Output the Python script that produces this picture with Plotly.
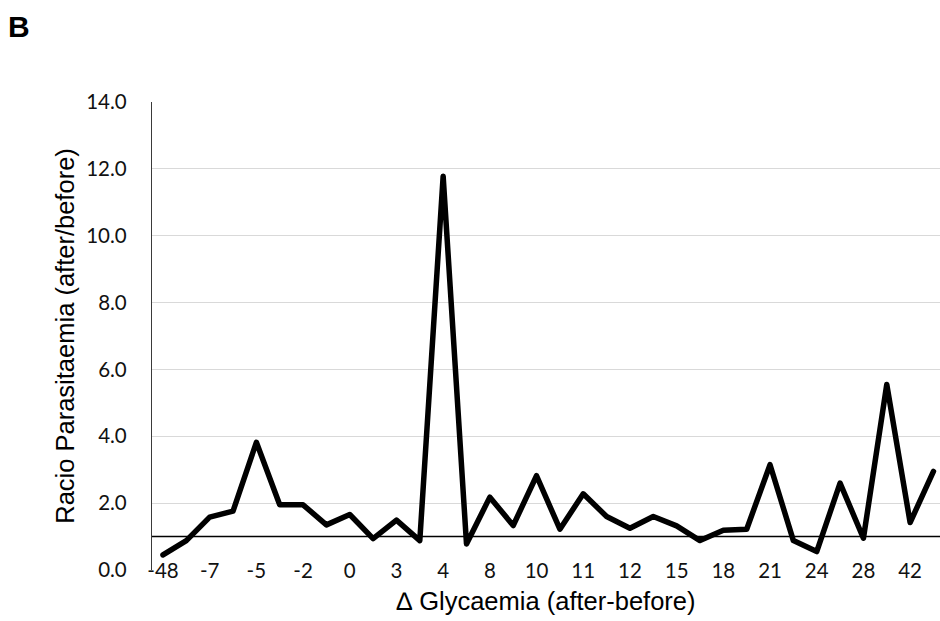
import plotly.graph_objects as go

# Ratio of parasitaemia (after/before) for each ordered glycaemia change
ratio = [0.45, 0.88, 1.58, 1.76, 3.82, 1.95, 1.95, 1.35, 1.66, 0.94,
         1.49, 0.88, 11.78, 0.78, 2.18, 1.33, 2.82, 1.22, 2.28, 1.60,
         1.25, 1.60, 1.32, 0.88, 1.19, 1.22, 3.15, 0.88, 0.55, 2.60,
         0.95, 5.55, 1.42, 2.95]
position = list(range(len(ratio)))

# Every second category carries a visible label
tick_positions = position[::2]
tick_labels = ["-48", "-7", "-5", "-2", "0", "3", "4", "8", "10", "11",
               "12", "15", "18", "21", "24", "28", "42"]

reference_ratio = 1.0
y_ticks = [0, 2, 4, 6, 8, 10, 12, 14]

TICK_FONT = dict(family="Lato, 'Open Sans', sans-serif", size=20.5, color="#111111")
TITLE_FONT = dict(family="'Liberation Sans', Arial, sans-serif", size=25.5, color="#000000")

fig = go.Figure()
fig.add_trace(go.Scatter(
    x=position, y=ratio, mode="lines",
    line=dict(color="#000000", width=5.5),
    hoverinfo="skip",
))

# Reference line at a ratio of 1
fig.add_shape(type="line", xref="x domain", yref="y",
              x0=0, x1=1, y0=reference_ratio, y1=reference_ratio,
              line=dict(color="#000000", width=1.6), layer="below")

fig.update_layout(
    width=940, height=621,
    margin=dict(l=152, r=0, t=102, b=51, autoexpand=False),
    paper_bgcolor="white", plot_bgcolor="white",
    showlegend=False,
    xaxis=dict(
        range=[-0.47, 33.28],
        anchor="free", position=0.028,
        tickmode="array", tickvals=tick_positions, ticktext=tick_labels,
        showgrid=False, zeroline=False, showline=False, ticks="",
        tickfont=TICK_FONT,
        title=dict(text="\u2206 Glycaemia (after-before)", font=TITLE_FONT, standoff=10),
        automargin=False,
    ),
    yaxis=dict(
        range=[0, 14],
        tickmode="array", tickvals=y_ticks, tickformat=".1f",
        showgrid=True, gridcolor="#d9d9d9", gridwidth=1.3,
        zeroline=False,
        showline=True, linecolor="#3a3a3a", linewidth=1.3,
        ticks="", ticklabelstandoff=20,
        tickfont=TICK_FONT,
        title=dict(text="Racio Parasitaemia (after/before)", font=TITLE_FONT, standoff=4),
        automargin=False,
    ),
    annotations=[dict(
        text="<b>B</b>", xref="paper", yref="paper",
        x=-0.1688, y=1.162, xanchor="center", yanchor="middle",
        showarrow=False,
        font=dict(family="'Liberation Sans', Arial, sans-serif", size=30, color="#000000"),
    )],
)

fig.write_html(
    "out.html",
    post_script="document.querySelectorAll('.scatterlayer path.js-line')"
                ".forEach(function(p){p.style.strokeLinejoin='round';p.style.strokeLinecap='round';});",
)
